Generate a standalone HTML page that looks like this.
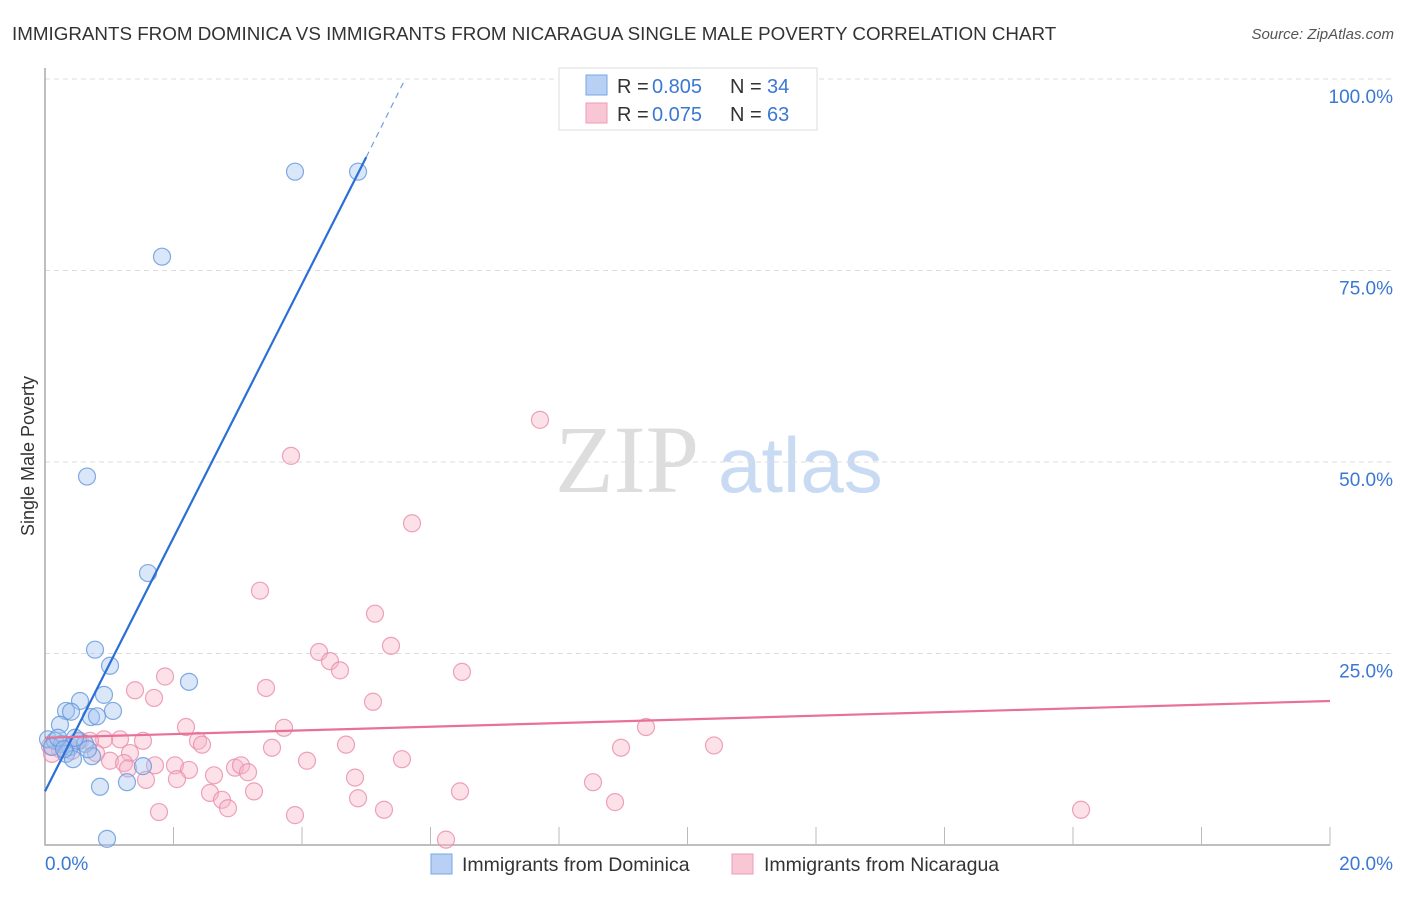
<!DOCTYPE html>
<html><head><meta charset="utf-8"><style>
body{margin:0;background:#fff;font-family:"Liberation Sans",sans-serif;}
</style></head><body>
<svg id="c" width="1406" height="892" xmlns="http://www.w3.org/2000/svg">
<text x="12" y="40" font-size="18.8" fill="#333">IMMIGRANTS FROM DOMINICA VS IMMIGRANTS FROM NICARAGUA SINGLE MALE POVERTY CORRELATION CHART</text>
<text x="1394" y="39" font-size="15" fill="#555" text-anchor="end" font-style="italic">Source: ZipAtlas.com</text>
<text x="34" y="456" font-size="18" fill="#333" text-anchor="middle" transform="rotate(-90 34 456)">Single Male Poverty</text>
<text x="555" y="492" font-size="96" fill="#ddd" font-family="Liberation Serif,serif">ZIP</text>
<text x="718" y="492" font-size="78" fill="#c9daf3">atlas</text>
<g id="grid"></g><g id="pts"></g><g id="lines"></g>
<g>
<rect x="559" y="68" width="258" height="62" fill="#fff" stroke="#ddd"/>
<rect x="586" y="75" width="21" height="20" fill="#b7d0f4" stroke="#7aa6e6"/>
<rect x="586" y="103" width="21" height="20" fill="#f9c6d5" stroke="#ec9cb6"/>
<text x="617" y="93" font-size="20" fill="#333">R = </text>
<text x="652" y="93" font-size="20" fill="#3a78d4">0.805</text>
<text x="730" y="93" font-size="20" fill="#333">N = </text>
<text x="767" y="93" font-size="20" fill="#3a78d4">34</text>
<text x="617" y="121" font-size="20" fill="#333">R = </text>
<text x="652" y="121" font-size="20" fill="#3a78d4">0.075</text>
<text x="730" y="121" font-size="20" fill="#333">N = </text>
<text x="767" y="121" font-size="20" fill="#3a78d4">63</text>
</g>
<g>
<rect x="431" y="854" width="21" height="20" fill="#b7d0f4" stroke="#7aa6e6"/>
<text x="462" y="871" font-size="19.5" fill="#333">Immigrants from Dominica</text>
<rect x="732" y="854" width="21" height="20" fill="#f9c6d5" stroke="#ec9cb6"/>
<text x="764" y="871" font-size="19.5" fill="#333">Immigrants from Nicaragua</text>
</g>
</svg>
<script>
const yTicks=[25,50,75,100];
const yTickLabels=["25.0%","50.0%","75.0%","100.0%"];
const xTickLabels=["0.0%","20.0%"];
const domX=[3.891,4.872,1.821,0.654,1.603,0.778,1.012,2.241,0.918,0.545,0.327,0.405,1.058,0.716,0.233,0.809,0.047,0.156,0.265,0.389,0.514,0.623,0.109,0.327,0.732,0.436,1.525,1.276,0.856,0.965,0.202,0.467,0.296,0.669];
const domY=[87.9,87.9,76.8,48.1,35.5,25.5,23.4,21.3,19.6,18.8,17.5,17.4,17.5,16.7,15.7,16.8,13.8,13.6,13.2,12.8,13.6,13.2,12.8,11.9,11.6,11.2,10.3,8.2,7.6,0.8,14.0,14.0,12.5,12.5];
const nicX=[7.704,3.829,5.712,3.346,5.136,5.385,4.265,4.436,4.591,6.490,1.868,1.401,1.697,3.440,5.105,2.195,9.354,3.720,2.381,2.444,1.525,1.167,0.918,0.545,0.078,0.233,0.420,0.794,1.323,3.533,4.685,10.412,8.965,1.012,1.230,1.712,2.023,2.241,2.957,3.051,3.160,4.078,5.556,1.292,1.572,2.054,2.630,2.568,2.755,3.253,6.459,4.825,8.529,8.872,4.872,5.276,16.125,1.774,2.848,3.891,6.241,0.109,0.700];
const nicY=[55.5,50.8,42.0,33.2,30.2,26.0,25.2,24.0,22.8,22.6,22.0,20.2,19.2,20.5,18.7,15.4,15.4,15.3,13.6,13.1,13.6,13.8,13.8,13.6,12.9,12.5,12.3,12.0,12.0,12.7,13.1,13.0,12.7,11.0,10.7,10.4,10.4,9.8,10.1,10.4,9.5,11.0,11.2,10.0,8.5,8.6,9.1,6.8,5.9,7.0,7.0,8.8,8.2,5.6,6.1,4.6,4.6,4.3,4.8,3.9,0.7,11.9,13.6];
const domLine=[0.0,7.0,5.0,89.8,5.6,99.9];
const nicLine=[0.0,14.0,20.0,18.8];
const sx=v=>45+v/20*1285, sy=v=>845-v/100*766;
const NS="http://www.w3.org/2000/svg";
function mk(t,a,p){const e=document.createElementNS(NS,t);for(const k in a)e.setAttribute(k,a[k]);p.appendChild(e);return e;}
const g=document.getElementById('grid');
yTicks.forEach((t,i)=>{
 const l=mk('line',{x1:45,x2:1394,y1:sy(t),y2:sy(t),stroke:'#ddd','stroke-dasharray':'5,4'},g);
 
 
 const tx=mk('text',{x:1393,y:sy(t)+24,'font-size':19,fill:'#3a78d4','text-anchor':'end'},g);tx.textContent=yTickLabels[i];
 
 
});
const ax=mk('path',{d:'M45 68 V845 H1330',fill:'none',stroke:'#aaa','stroke-width':1.5},g);


for(let i=1;i<=10;i++){const x=sx(i*2);const t=mk('line',{x1:x,x2:x,y1:827,y2:845,stroke:'#bbb'},g);
 
 }
[[0,45,'start'],[1,1393,'end']].forEach(([i,x,a])=>{const t=mk('text',{x:x,y:870,'font-size':19,fill:'#3a78d4','text-anchor':a},g);t.textContent=xTickLabels[i];
 
 });
const P=document.getElementById('pts');
nicX.forEach((v,i)=>{const c=mk('circle',{cx:sx(v),cy:sy(nicY[i]),r:8.5,fill:'rgba(248,180,200,0.4)',stroke:'rgba(232,140,172,0.8)','stroke-width':1.2},P);
 
 });
domX.forEach((v,i)=>{const c=mk('circle',{cx:sx(v),cy:sy(domY[i]),r:8.5,fill:'rgba(160,195,240,0.4)',stroke:'rgba(100,150,220,0.8)','stroke-width':1.2},P);
 
 });
const L=document.getElementById('lines');
const b1=mk('line',{x1:sx(domLine[0]),y1:sy(domLine[1]),x2:sx(domLine[2]),y2:sy(domLine[3]),stroke:'#2a6fd6','stroke-width':2.2},L);


const b2=mk('line',{x1:sx(domLine[2]),y1:sy(domLine[3]),x2:sx(domLine[4]),y2:sy(domLine[5]),stroke:'#6f9fe0','stroke-width':1.2,'stroke-dasharray':'6,5'},L);


const p1=mk('line',{x1:sx(nicLine[0]),y1:sy(nicLine[1]),x2:sx(nicLine[2]),y2:sy(nicLine[3]),stroke:'#e8719a','stroke-width':2.2},L);


</script>
</body></html>
